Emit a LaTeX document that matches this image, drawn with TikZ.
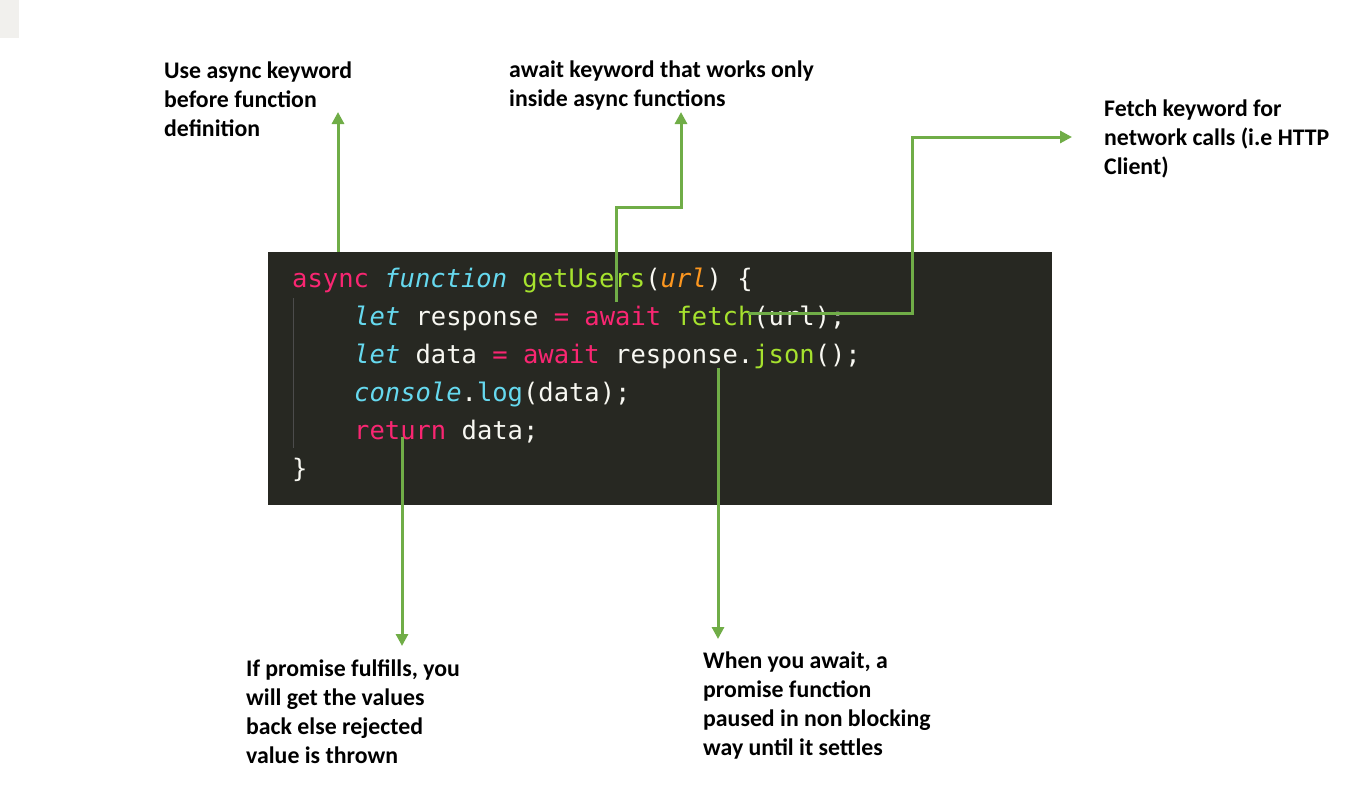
\documentclass[tikz,border=0pt]{standalone}
\usepackage{fontspec}
\setmainfont{Carlito}
\newfontfamily\codefont{DejaVu Sans Mono}
\usetikzlibrary{arrows.meta}
\definecolor{codebg}{HTML}{272822}
\definecolor{kwpink}{HTML}{F92672}
\definecolor{kwcyan}{HTML}{66D9EF}
\definecolor{kwgreen}{HTML}{A6E22E}
\definecolor{kworange}{HTML}{FD971F}
\definecolor{kwwhite}{HTML}{F8F8F2}
\definecolor{callgreen}{HTML}{70AD47}
\definecolor{cornergray}{HTML}{F1F0ED}
\newcommand{\kpink}[1]{\textcolor{kwpink}{#1}}
\newcommand{\kcyan}[1]{\textcolor{kwcyan}{#1}}
\newcommand{\kcyanit}[1]{\textcolor{kwcyan}{\itshape #1}}
\newcommand{\kgreen}[1]{\textcolor{kwgreen}{#1}}
\newcommand{\korange}[1]{\textcolor{kworange}{\itshape #1}}
\tikzset{
    codeline/.style={anchor=base west, inner sep=0pt, text=kwwhite,
        font=\codefont\fontsize{25.5}{30}\selectfont},
    note/.style={anchor=north west, inner sep=0pt, align=left,
        font=\bfseries\fontsize{23.8}{29}\selectfont},
    callout/.style={draw=callgreen, line width=3pt,
        -{Triangle[width=12pt,length=12pt]}}
}
\begin{document}
\begin{tikzpicture}[x=1pt,y=-1pt]
        \useasboundingbox (0,0) rectangle (1350,785);
        \fill[cornergray] (0,0) rectangle (19,38);
        \fill[codebg] (268,252) rectangle (1052,505);
        \draw[gray!60!black, line width=1pt] (293,298) -- (293,448);
        % code
        \node[codeline] (line1) at (292,287) {\kpink{async} \kcyanit{function} \kgreen{getUsers}(\korange{url}) \{};
        \node[codeline] (line2) at (354,325) {\kcyanit{let} response \kpink{=} \kpink{await} \kgreen{fetch}(url);};
        \node[codeline] (line3) at (354,363) {\kcyanit{let} data \kpink{=} \kpink{await} response.\kgreen{json}();};
        \node[codeline] (line4) at (354,401) {\kcyanit{console}.\kcyan{log}(data);};
        \node[codeline] (line5) at (354,439) {\kpink{return} data;};
        \node[codeline] (line6) at (292,477) {\}};
        % notes
        \node[note] (asyncnote) at (164,62) {Use async keyword\\before function\\definition};
        \node[note] (awaitnote) at (509,61) {await keyword that works only\\inside async functions};
        \node[note] (fetchnote) at (1104,100) {Fetch keyword for\\network calls (i.e HTTP\\Client)};
        \node[note] (returnnote) at (246,660) {If promise fulfills, you\\will get the values\\back else rejected\\value is thrown};
        \node[note] (jsonnote) at (703,652) {When you await, a\\promise function\\paused in non blocking\\way until it settles};
        % connectors
        \coordinate (asyncfoot) at (338,252);
        \coordinate (asynctip) at (338,112);
        \coordinate (awaitfoot) at (616,302);
        \coordinate (awaittip) at (681,112);
        \coordinate (fetchfoot) at (748,313);
        \coordinate (fetchtip) at (1072,137);
        \coordinate (returnfoot) at (402,437);
        \coordinate (returntip) at (402,646);
        \coordinate (jsonfoot) at (718,368);
        \coordinate (jsontip) at (718,639);
        \draw[callout] (asyncfoot) -- (asynctip);
        \draw[callout] (awaitfoot) -- (616,207) -| (awaittip);
        \draw[callout] (fetchfoot) -- (912,313) |- (fetchtip);
        \draw[callout] (returnfoot) -- (returntip);
        \draw[callout] (jsonfoot) -- (jsontip);
    \end{tikzpicture}
\end{document}
